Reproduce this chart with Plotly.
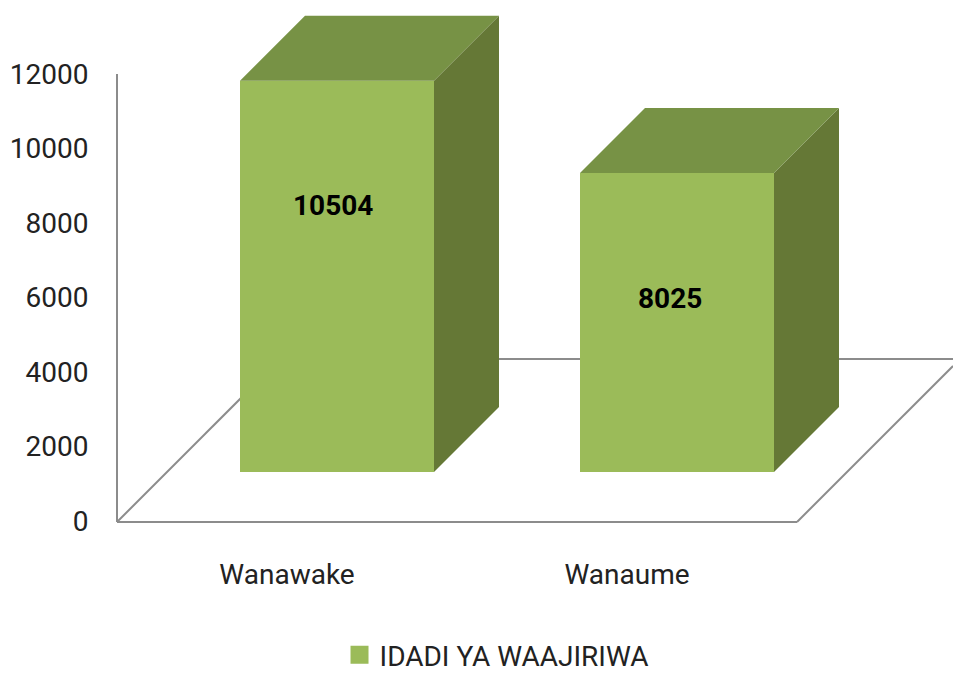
import plotly.graph_objects as go

categories = ["Wanawake", "Wanaume"]
values = [10504, 8025]
series_name = "IDADI YA WAAJIRIWA"
y_ticks = [0, 2000, 4000, 6000, 8000, 10000, 12000]

W, H = 953, 675
L, R, T, B = 117, 797, 74, 521
FONT = "Roboto"
FRONT, SIDE, TOP = "#9BBB59", "#657836", "#779245"
AXIS = "#8C8C8C"
TEXT = "#222222"

# scale of the axes and the projection of the 3D look
px_x = (R - L) / 2.0          # pixels per category
px_y = (B - T) / 12000.0      # pixels per value unit
x_lo = (0 - (L + px_x / 2)) / px_x
x_hi = (W - (L + px_x / 2)) / px_x
y_lo = (B - H) / px_y
y_hi = B / px_y


def dx(p):
    return (p - (L + px_x / 2)) / px_x


def dy(p):
    return (B - p) / px_y


bar_shift = 50 / px_x
bar_width = 194 / px_x
bar_base = 49 / px_y
depth_x = 65 / px_x
depth_y = 65 / px_y

fig = go.Figure()

xs = [i + bar_shift for i in range(len(categories))]

fig.add_trace(go.Bar(
    x=xs, y=values, base=[bar_base] * len(values), width=bar_width,
    marker=dict(color=FRONT, line=dict(width=0)),
    name=series_name, showlegend=False, hoverinfo="skip",
))

for xc, v in zip(xs, values):
    x0, x1 = xc - bar_width / 2, xc + bar_width / 2
    y0, y1 = bar_base, bar_base + v
    fig.add_trace(go.Scatter(
        x=[x1, x1 + depth_x, x1 + depth_x, x1, x1],
        y=[y0, y0 + depth_y, y1 + depth_y, y1, y0],
        mode="lines", line=dict(width=0), fill="toself", fillcolor=SIDE,
        showlegend=False, hoverinfo="skip",
    ))
    fig.add_trace(go.Scatter(
        x=[x0, x1, x1 + depth_x, x0 + depth_x, x0],
        y=[y1, y1, y1 + depth_y, y1 + depth_y, y1],
        mode="lines", line=dict(width=0), fill="toself", fillcolor=TOP,
        showlegend=False, hoverinfo="skip",
    ))

# legend entry
fig.add_trace(go.Scatter(
    x=[None], y=[None], mode="markers", name=series_name,
    marker=dict(symbol="square", size=16, color=FRONT, line=dict(width=2, color=FRONT)),
    hoverinfo="skip",
))

# data labels: vertical place of each label inside its front face
label_place = [0.681, 0.582]
label_dx = [-4, -7]
annotations = []
for xc, v, p, d in zip(xs, values, label_place, label_dx):
    annotations.append(dict(
        x=xc, y=bar_base + v * p, xref="x", yref="y", xshift=d,
        text=f"<b>{v}</b>", showarrow=False,
        font=dict(family=FONT, size=28, color="#000000"),
    ))

frame_lines = [
    (L, T, L, B + 1),
    (L, B + 1, R, B + 1),
    (L, B + 1, 280, 359),
    (280, 359, W, 359),
    (R, B + 1, W, 366),
]
shapes = [
    dict(type="line", xref="x", yref="y", layer="below",
         x0=dx(a), y0=dy(b), x1=dx(c), y1=dy(d),
         line=dict(color=AXIS, width=2))
    for a, b, c, d in frame_lines
]

fig.update_layout(
    width=W, height=H,
    margin=dict(l=0, r=0, t=0, b=0, pad=0, autoexpand=False),
    paper_bgcolor="#FFFFFF", plot_bgcolor="#FFFFFF",
    font=dict(family=FONT, size=28, color=TEXT),
    shapes=shapes, annotations=annotations,
    showlegend=True,
    legend=dict(
        x=0.521, xanchor="center", y=1 - 655 / H, yanchor="middle", orientation="h",
        font=dict(family=FONT, size=28, color=TEXT),
        bgcolor="rgba(0,0,0,0)",
    ),
    xaxis=dict(
        domain=[0, 1], anchor="free", position=(H - B) / H,
        range=[x_lo, x_hi], tickmode="array", tickvals=list(range(len(categories))),
        ticktext=categories, showgrid=False, zeroline=False, showline=False,
        ticks="outside", ticklen=28, tickcolor="rgba(0,0,0,0)",
        fixedrange=True, automargin=False,
    ),
    yaxis=dict(
        domain=[0, 1], anchor="free", position=L / W,
        range=[y_lo, y_hi], tickmode="array", tickvals=y_ticks,
        ticktext=[str(t) for t in y_ticks], showgrid=False, zeroline=False, showline=False,
        ticks="outside", ticklen=23, tickcolor="rgba(0,0,0,0)",
        fixedrange=True, automargin=False,
    ),
)

fig.write_html(
    "out.html",
    config={"displayModeBar": False},
    post_script="document.body.style.margin='0';document.body.style.overflow='hidden';",
)
